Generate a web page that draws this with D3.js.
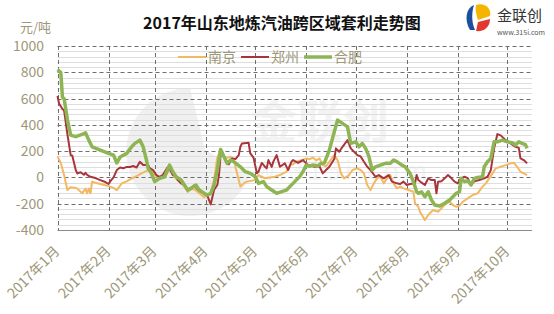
<!DOCTYPE html>
<meta charset="utf-8">
<script src="https://d3js.org/d3.v7.min.js"></script>
<style>
body { margin: 0; background: #fff; }
svg { display: block; font-family: "Noto Sans CJK SC", "Noto Sans", sans-serif; }
</style>
<body>
<div class="chart"></div>
<script>
// series: [day of 2017 counted from Jan 1, value in 元/吨]
var nanjing = [[0,160],[2,110],[4,18],[6,-96],[8,-75],[11,-80],[12,-85],[15,-121],[17,-85],[18,-121],[19,-85],[20,-121],[21,-32],[23,-40],[26,-50],[29,-60],[32,-70],[34,-80],[36,-96],[39,-45],[42,-30],[45,-8],[48,10],[51,31],[55,56],[57,50],[59,20],[62,-10],[65,0],[68,60],[70,20],[72,-10],[74,-30],[77,-70],[79,-110],[81,-90],[83,-90],[86,-120],[89,-150],[91,-130],[93,-120],[95,-20],[97,150],[99,208],[101,160],[103,150],[105,157],[107,130],[109,31],[111,-70],[113,-45],[115,-32],[120,-20],[122,18],[124,5],[126,-7],[129,0],[132,6],[135,18],[139,44],[141,94],[143,100],[145,119],[148,132],[151,145],[153,138],[155,152],[157,130],[159,145],[161,94],[163,85],[165,119],[168,170],[170,132],[172,31],[174,-7],[177,18],[179,56],[182,69],[184,56],[186,31],[188,-58],[190,-96],[192,-45],[194,-7],[196,5],[198,-45],[200,-7],[202,18],[204,-45],[206,-83],[208,-70],[210,-83],[213,-96],[216,-109],[217,-197],[219,-223],[220,-261],[223,-324],[225,-286],[228,-248],[231,-261],[233,-235],[236,-197],[238,-185],[240,-210],[242,-223],[244,-215],[246,-185],[249,-159],[252,-134],[255,-121],[258,-70],[260,-45],[262,-7],[264,31],[266,69],[269,81],[272,94],[275,107],[277,112],[279,81],[281,43],[283,31],[285,18]];
var zhengzhou = [[0,620],[1,560],[3,520],[4,510],[6,330],[8,170],[9,165],[11,60],[12,30],[14,40],[16,20],[17,35],[18,20],[20,5],[23,-5],[26,-20],[29,-35],[31,-50],[32,-30],[34,0],[36,56],[38,75],[40,70],[42,80],[44,80],[46,87],[48,75],[50,119],[52,94],[55,94],[56,70],[58,56],[60,18],[62,5],[64,20],[67,81],[68,70],[70,18],[72,10],[73,-20],[75,-45],[77,-55],[79,-95],[81,-80],[83,-60],[85,-90],[87,-110],[89,-120],[91,-140],[93,-205],[95,-96],[97,-58],[98,18],[99,170],[100,195],[102,132],[104,100],[106,145],[108,140],[110,170],[111,233],[112,259],[116,264],[117,183],[119,150],[121,31],[122,44],[124,110],[126,80],[127,69],[128,132],[130,80],[131,120],[133,170],[135,81],[138,107],[140,56],[142,120],[143,132],[146,110],[149,132],[152,94],[156,81],[159,85],[161,31],[163,56],[165,81],[168,140],[169,221],[171,195],[173,233],[176,284],[178,221],[182,170],[184,160],[186,119],[188,81],[190,56],[193,5],[195,18],[198,-7],[201,18],[203,-32],[206,-45],[208,-50],[210,-32],[212,-58],[214,-50],[217,-45],[218,18],[219,-20],[221,-40],[223,-58],[225,-7],[227,-20],[229,-20],[230,-121],[231,-32],[233,-30],[235,-7],[237,18],[239,-5],[241,-32],[243,-45],[245,-7],[247,5],[249,-5],[251,-58],[253,-30],[256,-20],[259,-7],[261,5],[263,56],[265,221],[267,330],[269,320],[272,284],[275,259],[278,233],[280,225],[281,145],[283,132],[285,107]];
var hefei = [[0,820],[2,800],[3,610],[4,600],[6,440],[8,322],[11,310],[15,327],[17,340],[19,284],[21,233],[26,208],[31,183],[34,170],[36,110],[38,155],[42,183],[45,233],[47,259],[50,284],[52,233],[54,132],[55,69],[57,31],[59,-32],[62,-7],[65,5],[68,94],[70,43],[72,5],[75,-20],[77,-58],[79,-96],[81,-83],[84,-58],[86,-96],[89,-121],[91,-134],[93,-121],[95,-58],[97,56],[99,213],[101,157],[103,107],[105,132],[107,120],[111,81],[114,44],[117,31],[120,6],[122,-45],[125,-32],[127,-70],[130,-96],[133,-121],[136,-108],[139,-96],[141,-70],[144,-32],[147,6],[149,44],[151,94],[153,85],[155,94],[158,88],[160,107],[162,110],[165,208],[168,347],[170,436],[173,411],[176,385],[178,259],[181,271],[183,233],[185,259],[187,221],[189,160],[191,56],[193,81],[196,94],[199,107],[202,107],[204,132],[206,120],[209,94],[211,81],[214,31],[216,-32],[218,-109],[219,-121],[221,-110],[223,-147],[225,-109],[227,-172],[229,-210],[232,-217],[235,-197],[238,-172],[240,-147],[242,-121],[244,-109],[245,-7],[247,-32],[249,-25],[251,-58],[253,-7],[255,0],[258,5],[259,81],[261,119],[263,145],[265,271],[267,271],[270,284],[273,271],[276,264],[278,246],[280,271],[282,259],[284,250],[285,221]];

var seriesNames = ["南京", "郑州", "合肥"];
var seriesColors = ["#f3b862", "#a8353b", "#8db553"];
var seriesWidths = [2, 2, 3.5];
var yTicks = [-400, -200, 0, 200, 400, 600, 800, 1000];
var monthLabels = ["2017年1月", "2017年2月", "2017年3月", "2017年4月", "2017年5月",
                   "2017年6月", "2017年7月", "2017年8月", "2017年9月", "2017年10月"];

var width = 554, height = 314;
var plotLeft = 57.5, plotRight = 532, plotTop = 46, plotBottom = 230;
var labelColor = "#9e9778";

var svg = d3.select(".chart").append("svg")
    .attr("width", width)
    .attr("height", height);

var start = new Date(2017, 0, 1);
function toDate(d) { return d3.timeDay.offset(start, d); }

var x = d3.scaleTime()
    .domain([start, toDate(288)])
    .range([plotLeft, plotRight]);

var y = d3.scaleLinear()
    .domain([-400, 1000])
    .range([plotBottom, plotTop]);

// watermark
var wm = svg.append("g");
wm.append("path")
    .attr("d", "M190,88 A64,64 0 1,0 250,175 L205,150 Z")
    .attr("fill", "#f0f0f0");
wm.append("text")
    .attr("x", 320).attr("y", 138)
    .attr("text-anchor", "middle")
    .attr("font-size", 46).attr("font-weight", "bold")
    .attr("fill", "#f3f3f3")
    .text("金联创");
wm.append("text")
    .attr("x", 318).attr("y", 180)
    .attr("text-anchor", "middle")
    .attr("font-size", 26)
    .attr("letter-spacing", 4)
    .attr("fill", "#f4f4f4")
    .text("www.315i.com");

// minor grid lines every 40
svg.append("g").selectAll("line")
    .data(d3.range(-360, 1000, 40).filter(function(v) { return v % 200 != 0; }))
    .enter().append("line")
    .attr("x1", plotLeft).attr("x2", plotRight)
    .attr("y1", function(d) { return Math.round(y(d)) + 0.5; })
    .attr("y2", function(d) { return Math.round(y(d)) + 0.5; })
    .attr("stroke", "#dedede");

// major dashed grid lines
svg.append("g").selectAll("line")
    .data(yTicks.slice(1))
    .enter().append("line")
    .attr("x1", plotLeft).attr("x2", plotRight)
    .attr("y1", function(d) { return Math.round(y(d)) + 0.5; })
    .attr("y2", function(d) { return Math.round(y(d)) + 0.5; })
    .attr("stroke", "#6e6e6e")
    .attr("stroke-dasharray", "4,3");

// month grid lines
var months = d3.timeMonth.range(start, toDate(274));
svg.append("g").selectAll("line")
    .data(months)
    .enter().append("line")
    .attr("x1", function(d) { return Math.round(x(d)) + 0.5; })
    .attr("x2", function(d) { return Math.round(x(d)) + 0.5; })
    .attr("y1", plotTop).attr("y2", plotBottom)
    .attr("stroke", "#6e6e6e")
    .attr("stroke-dasharray", "4,3");

// bottom axis line
svg.append("line")
    .attr("x1", plotLeft).attr("x2", plotRight)
    .attr("y1", plotBottom + 0.5).attr("y2", plotBottom + 0.5)
    .attr("stroke", "#8a8a8a");

// y tick labels
svg.append("g").selectAll("text")
    .data(yTicks)
    .enter().append("text")
    .attr("x", 44)
    .attr("y", function(d) { return y(d) + 5; })
    .attr("text-anchor", "end")
    .attr("font-size", 14)
    .attr("fill", labelColor)
    .text(function(d) { return d; });

svg.append("text")
    .attr("x", 20).attr("y", 32)
    .attr("font-size", 13)
    .attr("fill", labelColor)
    .text("元/吨");

// x labels
svg.append("g").selectAll("text")
    .data(months)
    .enter().append("text")
    .attr("transform", function(d) { return "translate(" + (x(d) + 3) + "," + 252 + ") rotate(-45)"; })
    .attr("text-anchor", "end")
    .attr("font-size", 14)
    .attr("fill", labelColor)
    .text(function(d, i) { return monthLabels[i]; });

// lines
var line = d3.line()
    .x(function(d) { return x(toDate(d[0])); })
    .y(function(d) { return y(d[1]); });

[nanjing, zhengzhou, hefei].forEach(function(s, i) {
  svg.append("path")
      .datum(s)
      .attr("fill", "none")
      .attr("stroke", seriesColors[i])
      .attr("stroke-width", seriesWidths[i])
      .attr("stroke-linejoin", "round")
      .attr("d", line);
});

// legend
var legendX = [178, 241, 304];
var legend = svg.append("g").selectAll("g")
    .data(seriesNames)
    .enter().append("g")
    .attr("transform", function(d, i) { return "translate(" + legendX[i] + ",57)"; });
legend.append("line")
    .attr("x1", 0).attr("x2", 28)
    .attr("stroke", function(d, i) { return seriesColors[i]; })
    .attr("stroke-width", function(d, i) { return seriesWidths[i]; });
legend.append("text")
    .attr("x", 30).attr("y", 5)
    .attr("font-size", 14)
    .attr("fill", labelColor)
    .text(function(d) { return d; });

// title
svg.append("text")
    .attr("x", 282).attr("y", 29)
    .attr("text-anchor", "middle")
    .attr("font-size", 16)
    .attr("font-weight", "bold")
    .attr("fill", "#111")
    .text("2017年山东地炼汽油跨区域套利走势图");

// logo
var logo = svg.append("g").attr("transform", "translate(478,18)");
logo.append("path").attr("d", "M-4,-13 C-12,-10 -14,2 -8,12 L-3,12 C-7,3 -6,-7 -4,-13 Z").attr("fill", "#1d4f9e");
logo.append("path").attr("d", "M-2,-13 C6,-16 14,-10 12,-2 L0,2 C-2,-4 -3,-9 -2,-13 Z").attr("fill", "#f5b400");
logo.append("path").attr("d", "M0,4 L12,1 C12,9 6,14 -2,13 Z").attr("fill", "#e2382e");
svg.append("text")
    .attr("x", 497).attr("y", 21)
    .attr("font-size", 15)
    .attr("fill", "#333")
    .text("金联创");
svg.append("text")
    .attr("x", 497).attr("y", 35)
    .attr("font-size", 7)
    .attr("fill", "#555")
    .text("www.315i.com");
</script>
</body>
